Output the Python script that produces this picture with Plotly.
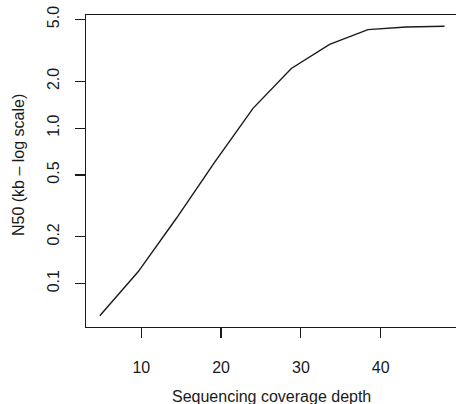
import plotly.graph_objects as go

# Data
coverage = [4.8, 9.6, 14.4, 19.2, 24.0, 28.8, 33.6, 38.4, 43.2, 48.0]
n50_kb = [0.062, 0.119, 0.263, 0.604, 1.34, 2.42, 3.46, 4.30, 4.47, 4.52]
x_ticks = [10, 20, 30, 40]
y_ticks = [0.1, 0.2, 0.5, 1.0, 2.0, 5.0]
y_tick_labels = ["0.1", "0.2", "0.5", "1.0", "2.0", "5.0"]
x_title = "Sequencing coverage depth"
y_title = "N50 (kb \u2013 log scale)"

FONT = "Liberation Sans, Arial, Helvetica, sans-serif"
INK = "#1a1a1a"

fig = go.Figure()
fig.add_trace(go.Scatter(
    x=coverage, y=n50_kb, mode="lines",
    line=dict(color=INK, width=1.4),
    showlegend=False, hoverinfo="skip",
))

fig.update_layout(
    width=456, height=404,
    margin=dict(l=86, r=0, t=15, b=77),
    paper_bgcolor="white", plot_bgcolor="white",
    font=dict(family=FONT, size=16, color=INK),
    xaxis=dict(
        range=[3.07, 49.44],
        tickvals=x_ticks,
        ticks="outside", ticklen=10, tickwidth=1.2, tickcolor=INK,
        showline=True, linecolor=INK, linewidth=1.3, mirror=True,
        showgrid=False, zeroline=False,
        ticklabelstandoff=15,
        tickfont=dict(size=16, family=FONT, color=INK),
    ),
    yaxis=dict(
        type="log",
        range=[-1.2795, 0.7276],
        tickvals=y_ticks, ticktext=y_tick_labels,
        tickangle=-90,
        ticks="outside", ticklen=10, tickwidth=1.2, tickcolor=INK,
        showline=True, linecolor=INK, linewidth=1.3, mirror=False,
        showgrid=False, zeroline=False,
        ticklabelstandoff=9,
        tickfont=dict(size=16, family=FONT, color=INK),
    ),
    annotations=[
        dict(text=x_title, xref="paper", yref="paper", x=0.5, y=0,
             xanchor="center", yanchor="middle", yshift=-69,
             showarrow=False, font=dict(size=16, family=FONT, color=INK)),
        dict(text=y_title, xref="paper", yref="paper", x=0, y=0.5,
             xanchor="center", yanchor="middle", xshift=-68, yshift=6,
             textangle=-90,
             showarrow=False, font=dict(size=16, family=FONT, color=INK)),
    ],
)

fig.write_html(
    "out.html",
    config={"displayModeBar": False, "staticPlot": True},
    post_script="document.body.style.margin='0';document.body.style.overflow='hidden';",
)
